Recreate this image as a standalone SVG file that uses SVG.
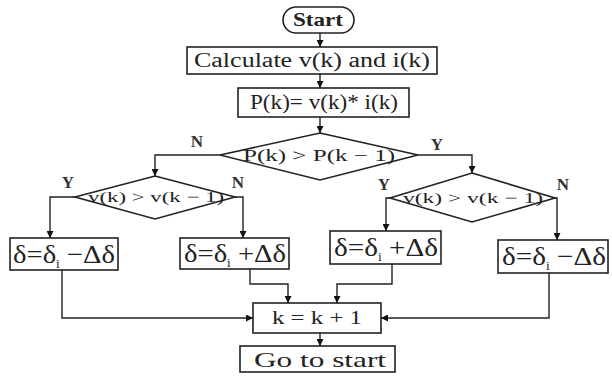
<svg xmlns="http://www.w3.org/2000/svg" width="612" height="381" viewBox="0 0 612 381">
<defs>
<marker id="ah" viewBox="0 0 10 10" refX="10" refY="5" markerWidth="7" markerHeight="7" markerUnits="userSpaceOnUse" orient="auto">
<path d="M0,0 L10,5 L0,10 z" fill="#111"/>
</marker>
<style>
.box{fill:#fff;stroke:#222;stroke-width:1.6}
.t{font-family:"Liberation Serif","Times New Roman",serif;fill:#222;text-anchor:middle}
.c{fill:none;stroke:#222;stroke-width:1.4;marker-end:url(#ah)}
.yn{font-family:"Liberation Serif","Times New Roman",serif;font-size:17px;font-weight:bold;fill:#333;text-anchor:middle}
.d{font-family:"Liberation Serif","Times New Roman",serif;font-size:26px;fill:#222;text-anchor:middle}
</style>
</defs>
<rect width="612" height="381" fill="#fff"/>
<g id="connectors">
<path class="c" d="M320,33 V47"/>
<path class="c" d="M320,74 V88"/>
<path class="c" d="M320,117 V133"/>
<path class="c" d="M220,155 H155 V176"/>
<path class="c" d="M418,155 H472 V173"/>
<path class="c" d="M75,197 H50 V238"/>
<path class="c" d="M235,197 H243 V238"/>
<path class="c" d="M390,198 H386 V231"/>
<path class="c" d="M555,198 H557 V240"/>
<path class="c" d="M62,270 V318 H253"/>
<path class="c" d="M250,269 V284 H288 V303"/>
<path class="c" d="M392,264 V284 H337 V303"/>
<path class="c" d="M549,273 V318 H381"/>
<path class="c" d="M320,333 V346"/>
</g>
<g id="labels">
<text class="yn" x="197" y="147">N</text>
<text class="yn" x="437" y="150">Y</text>
<text class="yn" x="68" y="188">Y</text>
<text class="yn" x="238" y="188">N</text>
<text class="yn" x="384" y="190">Y</text>
<text class="yn" x="563" y="190">N</text>
</g>
<g id="start">
<rect class="box" x="283" y="7" width="71" height="26" rx="13"/>
<text class="t" x="318" y="26" font-size="19" font-weight="bold" textLength="50" lengthAdjust="spacingAndGlyphs">Start</text>
</g>
<g id="calc">
<rect class="box" x="187" y="47" width="250" height="27"/>
<text class="t" x="312" y="67" font-size="20" textLength="236" lengthAdjust="spacingAndGlyphs">Calculate v(k) and i(k)</text>
</g>
<g id="power">
<rect class="box" x="238" y="88" width="171" height="29"/>
<text class="t" x="324" y="109" font-size="20" textLength="148" lengthAdjust="spacingAndGlyphs">P(k)= v(k)* i(k)</text>
</g>
<g id="dec-main">
<polygon class="box" points="320,133 418,155 320,180 220,155"/>
<text class="t" x="319" y="161" font-size="16" textLength="152" lengthAdjust="spacingAndGlyphs">P(k) &gt; P(k − 1)</text>
</g>
<g id="dec-left">
<polygon class="box" points="155,176 235,197 155,219 75,197"/>
<text class="t" x="156" y="202" font-size="15" textLength="136" lengthAdjust="spacingAndGlyphs">v(k) &gt; v(k − 1)</text>
</g>
<g id="dec-right">
<polygon class="box" points="472,173 555,198 472,222 390,198"/>
<text class="t" x="473" y="203" font-size="15" textLength="140" lengthAdjust="spacingAndGlyphs">v(k) &gt; v(k − 1)</text>
</g>
<g id="box1">
<rect class="box" x="10" y="238" width="108" height="32"/>
<text class="d" x="64" y="263" textLength="102" lengthAdjust="spacingAndGlyphs">δ=δ<tspan font-size="12" dy="5">i</tspan><tspan dy="-5"> −Δδ</tspan></text>
</g>
<g id="box2">
<rect class="box" x="180" y="238" width="109" height="31"/>
<text class="d" x="235" y="262" textLength="102" lengthAdjust="spacingAndGlyphs">δ=δ<tspan font-size="12" dy="5">i</tspan><tspan dy="-5"> +Δδ</tspan></text>
</g>
<g id="box3">
<rect class="box" x="330" y="231" width="111" height="33"/>
<text class="d" x="386" y="256" textLength="104" lengthAdjust="spacingAndGlyphs">δ=δ<tspan font-size="12" dy="5">i</tspan><tspan dy="-5"> +Δδ</tspan></text>
</g>
<g id="box4">
<rect class="box" x="498" y="240" width="110" height="33"/>
<text class="d" x="554" y="265" textLength="104" lengthAdjust="spacingAndGlyphs">δ=δ<tspan font-size="12" dy="5">i</tspan><tspan dy="-5"> −Δδ</tspan></text>
</g>
<g id="kinc">
<rect class="box" x="253" y="303" width="128" height="30"/>
<text class="t" x="317" y="324" font-size="18" textLength="90" lengthAdjust="spacingAndGlyphs">k = k + 1</text>
</g>
<g id="goto">
<rect class="box" x="240" y="346" width="155" height="26"/>
<text class="t" x="320" y="367" font-size="22" textLength="132" lengthAdjust="spacingAndGlyphs">Go to start</text>
</g>
</svg>
